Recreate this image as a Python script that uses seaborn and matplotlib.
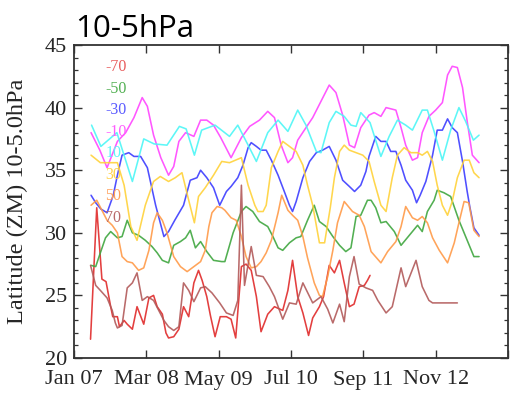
import matplotlib
matplotlib.use("Agg")
import matplotlib.pyplot as plt
import pandas as pd
import seaborn as sns
from matplotlib.ticker import MultipleLocator

# Time axis: months counted from Jan 2007
tick_months = [0, 14, 28, 42, 56, 70, 84]
tick_labels = ["Jan 07", "Mar 08", "May 09", "Jul 10", "Sep 11", "Nov 12", ""]

band_names = ["-70", "-50", "-30", "-10", "10", "30", "50", "70"]
band_colors = ["#e02a2a", "#3fa63f", "#3c3cff", "#ff45ff",
               "#4cf6f6", "#ffd23a", "#ff9a48", "#b25a5a"]
label_colors = ["#e85c5c", "#52b052", "#5a5aff", "#ff5cff",
                "#5cf8f8", "#ffd24a", "#ffa05a", "#b86a6a"]

# Zonal-mean latitude of each band (10-5 hPa)
mon_n70 = [3.2, 4.4, 5.4, 6.2, 7.1, 7.5, 8.4, 8.8, 9.7, 10.3, 11.3, 12.2, 13.5, 14.5,
           15.4, 16.1, 17.1, 17.8, 18.3, 19.3, 20.3, 21.2, 22.2, 23.2, 24.1, 24.8,
           25.7, 26.4, 27.3, 28.3, 29.5, 30.4, 31.3, 32.4, 33.3, 34.3, 35.3, 36.2,
           37.5, 38.8, 40.4, 41.4, 42.3, 43.3, 44.3, 45.4, 46.2, 47.5, 48.3, 49.4,
           50.4, 51.4, 52.3, 53.3, 54.2, 55.2, 56.2, 56.8, 57.3]
lat_n70 = [21.5, 32.0, 26.3, 26.1, 24.1, 23.3, 23.3, 22.5, 23.0, 22.7, 22.3, 24.1, 22.7, 24.8,
           25.0, 24.1, 23.5, 22.0, 21.6, 21.7, 22.3, 24.1, 23.3, 26.0, 27.0, 26.2,
           24.9, 23.4, 21.7, 23.3, 23.3, 23.1, 21.6, 27.3, 27.5, 27.0, 24.9, 22.1,
           23.5, 24.1, 23.8, 25.4, 27.8, 24.9, 23.6, 21.8, 23.2, 24.1, 24.9, 27.4,
           26.8, 27.8, 26.0, 24.1, 24.3, 25.7, 25.8, 26.2, 26.6]

mon_n50 = [3.3, 4.2, 5.1, 6.1, 7.1, 8.4, 9.3, 10.3, 11.3, 12.5, 13.8, 15.1, 16.1, 17.1,
           18.3, 19.3, 20.6, 21.6, 22.5, 23.5, 24.5, 25.7, 27.0, 28.6, 29.2, 30.8,
           32.4, 33.3, 34.6, 35.9, 37.5, 38.5, 39.5, 40.4, 41.7, 43.0, 43.9, 45.2,
           46.5, 47.5, 48.8, 50.1, 51.4, 52.6, 53.6, 54.6, 55.5, 56.8, 57.5, 58.4,
           59.4, 60.4, 62.0, 63.3, 64.9, 66.5, 67.4, 68.4, 69.7, 70.3, 71.6, 72.9,
           74.5, 75.8, 77.4, 78.4]
lat_n50 = [27.4, 27.3, 28.4, 29.6, 30.1, 29.6, 29.7, 31.0, 30.0, 29.8, 29.4, 28.9, 28.4, 27.8,
           27.6, 29.0, 29.3, 29.6, 30.2, 28.8, 29.3, 28.5, 27.8, 27.7, 27.7, 30.0,
           31.7, 32.1, 31.7, 30.9, 30.5, 29.7, 28.8, 28.6, 29.2, 29.6, 29.7, 31.0,
           32.2, 30.9, 30.5, 29.7, 29.0, 28.5, 28.8, 31.3, 31.4, 32.6, 32.6, 32.0,
           30.8, 30.9, 30.1, 29.0, 29.8, 30.6, 30.1, 31.7, 32.6, 33.4, 33.2, 32.9,
           31.0, 29.7, 28.1, 28.1]

mon_n30 = [3.3, 4.2, 5.2, 6.4, 7.6, 8.4, 9.3, 10.6, 11.6, 12.9, 14.2, 15.8, 17.4, 18.3,
           19.5, 21.2, 22.5, 23.8, 24.5, 25.7, 27.0, 28.2, 29.5, 30.4, 31.7, 32.7,
           33.7, 34.3, 35.3, 36.2, 37.2, 38.2, 39.5, 40.7, 41.7, 42.3, 43.0, 44.3,
           45.6, 46.9, 48.1, 49.4, 50.7, 52.0, 53.3, 54.3, 55.5, 56.5, 57.1, 58.4,
           59.4, 60.4, 61.3, 62.3, 63.3, 64.2, 65.5, 66.3, 67.0, 68.1, 69.4, 70.3,
           71.3, 72.3, 73.2, 74.2, 75.2, 76.1, 76.6, 77.4, 78.4]
lat_n30 = [33.0, 32.4, 31.9, 31.6, 33.0, 34.6, 36.2, 36.4, 36.1, 36.1, 35.2, 32.2, 29.7, 30.1,
           31.0, 32.2, 34.2, 34.4, 35.0, 34.4, 33.6, 32.2, 33.3, 33.7, 34.4, 35.4,
           36.8, 37.2, 36.9, 36.6, 36.6, 35.8, 34.6, 33.3, 32.2, 31.7, 32.5, 34.4,
           35.7, 36.4, 36.6, 36.9, 35.8, 34.2, 33.7, 33.3, 33.8, 34.9, 36.1, 37.7,
           37.3, 37.3, 36.5, 36.5, 35.4, 34.2, 33.4, 32.4, 33.0, 34.1, 36.2, 38.2,
           38.2, 39.1, 38.4, 38.0, 35.7, 33.3, 32.1, 30.4, 29.8]

mon_n10 = [3.3, 5.0, 6.4, 8.4, 10.0, 11.6, 13.2, 14.2, 15.4, 16.8, 18.3, 19.3, 20.3, 21.6,
           23.2, 24.5, 25.7, 27.0, 28.4, 30.4, 32.4, 34.0, 35.9, 37.5, 38.8, 40.1,
           41.4, 42.3, 43.3, 44.9, 46.2, 47.8, 49.4, 50.7, 52.0, 53.3, 54.3, 55.5,
           57.1, 58.1, 59.4, 60.4, 62.3, 63.3, 64.2, 65.5, 66.5, 67.4, 68.7, 70.0,
           71.3, 72.3, 73.2, 74.2, 75.2, 76.1, 77.1, 78.4]
lat_n10 = [38.0, 36.6, 35.2, 37.3, 38.0, 39.2, 40.8, 40.1, 37.8, 36.0, 34.6, 35.3, 37.3, 38.0,
           37.7, 39.0, 39.0, 38.6, 37.6, 36.0, 37.6, 38.5, 39.0, 39.7, 39.2, 37.0,
           35.6, 36.0, 37.4, 38.4, 39.2, 40.5, 41.8, 41.2, 39.4, 37.0, 36.8, 38.4,
           39.4, 39.6, 39.3, 40.0, 39.8, 38.4, 37.0, 35.8, 36.0, 38.0, 39.3, 39.8,
           40.4, 42.6, 43.3, 43.2, 41.6, 38.9, 36.2, 35.6]

mon_p10 = [3.4, 5.2, 8.3, 11.3, 13.5, 15.5, 18.0, 20.4, 21.7, 23.3, 24.7, 27.3, 30.1, 31.7,
           33.7, 35.3, 37.5, 39.5, 41.4, 43.3, 44.9, 46.9, 47.8, 49.4, 50.7, 52.3,
           53.6, 54.6, 55.5, 57.3, 59.4, 61.0, 62.6, 64.2, 65.5, 67.4, 68.4, 69.7,
           71.3, 72.9, 74.5, 75.8, 77.3, 78.4]
lat_p10 = [38.6, 36.9, 38.0, 34.1, 37.5, 37.1, 37.0, 38.5, 38.3, 36.2, 38.2, 38.6, 37.7, 38.6,
           37.0, 35.7, 38.0, 39.0, 38.1, 39.8, 38.6, 36.5, 36.4, 38.8, 39.7, 39.3,
           38.6, 38.5, 39.6, 38.8, 36.1, 37.7, 39.0, 38.6, 38.2, 39.8, 39.8, 38.1,
           35.8, 38.2, 40.0, 38.9, 37.4, 37.8]

mon_p30 = [3.3, 5.1, 6.5, 8.4, 9.7, 11.0, 12.2, 13.8, 15.4, 16.7, 18.3, 19.6, 20.9, 22.2,
           23.3, 24.1, 25.4, 27.0, 28.6, 30.1, 32.4, 33.7, 35.0, 35.6, 36.6, 37.2,
           38.2, 39.5, 40.4, 41.7, 43.0, 44.3, 45.2, 46.2, 47.5, 48.5, 49.6, 50.4,
           51.4, 52.3, 53.3, 54.6, 55.9, 57.1, 58.1, 59.4, 60.4, 61.6, 62.6, 63.9,
           65.2, 66.5, 67.4, 68.4, 69.4, 70.3, 71.3, 72.3, 73.2, 74.2, 75.5, 76.5,
           77.4, 78.4]
lat_p30 = [36.2, 35.6, 35.6, 35.6, 33.8, 30.5, 29.4, 32.2, 34.1, 34.5, 34.1, 34.4, 34.8, 32.6,
           30.8, 32.9, 33.6, 34.6, 35.7, 35.6, 36.0, 33.8, 32.2, 31.7, 31.7, 32.2,
           35.2, 36.5, 37.3, 36.9, 36.5, 35.4, 33.8, 32.2, 29.2, 29.2, 32.0, 34.4,
           36.5, 37.0, 36.6, 36.4, 36.2, 35.7, 34.1, 32.2, 31.7, 34.4, 36.2, 36.8,
           36.4, 36.4, 36.2, 36.5, 35.7, 33.8, 32.2, 31.4, 32.5, 34.4, 35.8, 35.8,
           34.8, 34.4]

mon_p50 = [3.3, 4.4, 5.4, 6.4, 7.4, 8.4, 9.3, 10.3, 11.3, 12.5, 13.5, 14.5, 15.4, 16.1,
           17.1, 18.0, 19.3, 20.6, 21.9, 23.2, 24.5, 25.4, 26.1, 26.7, 27.7, 28.6,
           29.2, 30.4, 31.4, 32.4, 33.3, 34.3, 35.3, 36.2, 37.2, 38.2, 39.5, 40.2,
           41.4, 42.3, 43.3, 44.3, 45.2, 46.5, 47.5, 48.1, 49.1, 50.1, 51.0, 52.3,
           53.9, 55.2, 56.2, 57.5, 59.4, 60.7, 62.3, 63.3, 64.2, 65.5, 66.5, 67.4,
           68.4, 69.4, 70.7, 72.3, 73.6, 74.5, 75.5, 76.4, 77.4, 78.4]
lat_p50 = [32.2, 32.6, 31.8, 31.0, 30.6, 30.0, 28.1, 27.7, 27.6, 27.0, 27.2, 28.6, 30.8, 31.6,
           31.0, 30.0, 28.1, 27.3, 26.9, 27.3, 27.7, 28.6, 30.5, 31.6, 32.1, 32.0,
           31.8, 31.2, 31.0, 29.7, 28.1, 27.2, 27.3, 27.7, 28.4, 29.4, 31.6, 33.0,
           31.8, 31.4, 31.0, 29.7, 28.0, 26.0, 25.0, 24.9, 26.5, 28.6, 30.8, 32.5,
           31.7, 31.4, 30.5, 28.5, 27.6, 28.5, 29.3, 30.5, 32.1, 31.2, 31.0, 31.3,
           30.8, 29.6, 28.6, 27.6, 29.2, 30.8, 32.5, 32.4, 30.2, 29.7]

mon_p70 = [3.2, 4.2, 5.1, 6.4, 7.4, 8.0, 8.4, 9.3, 10.3, 11.3, 12.2, 13.2, 14.2, 15.4,
           16.4, 17.4, 18.3, 19.3, 20.3, 21.2, 22.2, 23.2, 24.5, 25.4, 26.7, 28.2,
           29.5, 30.8, 31.7, 32.4, 33.0, 34.3, 35.3, 36.6, 37.8, 38.8, 40.4, 41.7,
           43.0, 44.3, 46.2, 47.8, 49.1, 50.1, 51.4, 52.3, 53.3, 54.2, 55.2, 56.5,
           57.8, 58.8, 60.4, 61.6, 63.3, 64.2, 66.2, 67.4, 68.7, 69.4, 74.2]
lat_p70 = [27.4, 25.8, 25.4, 24.8, 23.8, 22.8, 22.4, 22.6, 25.6, 26.0, 26.8, 24.6, 24.9, 24.6,
           23.8, 23.0, 22.5, 22.2, 22.5, 26.0, 25.4, 24.5, 25.6, 25.7, 25.2, 24.4,
           23.6, 23.4, 24.6, 33.8, 25.8, 28.9, 26.6, 26.5, 25.7, 24.9, 23.1, 24.4,
           24.3, 26.0, 24.4, 24.9, 23.9, 22.8, 24.3, 22.9, 26.5, 28.1, 25.9, 25.6,
           25.4, 24.6, 23.6, 24.1, 27.2, 25.7, 27.8, 25.7, 24.6, 24.4, 24.4]

series = {
    "-70": (mon_n70, lat_n70), "-50": (mon_n50, lat_n50),
    "-30": (mon_n30, lat_n30), "-10": (mon_n10, lat_n10),
    "10": (mon_p10, lat_p10), "30": (mon_p30, lat_p30),
    "50": (mon_p50, lat_p50), "70": (mon_p70, lat_p70),
}
frames = [pd.DataFrame({"month": m, "lat": v, "band": name})
          for name, (m, v) in series.items()]
df = pd.concat(frames, ignore_index=True)

sns.set_style("ticks")
serif = ["Liberation Serif", "DejaVu Serif"]

fig = plt.figure(figsize=(5.13, 3.99), dpi=100)
ax = fig.add_axes([74 / 513, 1 - 358 / 399, 434 / 513, 313 / 399])

sns.lineplot(data=df, x="month", y="lat", hue="band", hue_order=band_names,
             palette=band_colors, estimator=None, sort=True, legend=False,
             linewidth=1.15, alpha=0.9, ax=ax)

ax.set_xlim(0, 84)
ax.set_ylim(20, 45)
ax.set_xticks(tick_months)
ax.set_xticklabels(tick_labels, family=serif, fontsize=16)
ax.yaxis.set_major_locator(MultipleLocator(5))
ax.yaxis.set_minor_locator(MultipleLocator(1))
for lab in ax.get_yticklabels():
    lab.set_family(serif)
    lab.set_fontsize(16)
ax.tick_params(axis="both", which="major", direction="in", length=5.5, width=1.0,
               color="#333333", top=True, right=True)
ax.tick_params(axis="y", which="minor", direction="in", length=3, width=0.9,
               color="#333333", left=True, right=True)
ax.tick_params(axis="x", which="major", pad=9)
ax.tick_params(axis="y", which="major", pad=5)
for sp in ax.spines.values():
    sp.set_visible(True)
    sp.set_color("#333333")
    sp.set_linewidth(1.3)

ax.set_xlabel("")
ax.set_ylabel("Latitude (ZM) 10-5.0hPa", family=serif, fontsize=17.5)
ax.yaxis.set_label_coords(-0.105, 0.5)

# Band labels inside the plot
for i, (name, col) in enumerate(zip(band_names, label_colors)):
    ax.text(0.072, 0.930 - i * 0.069, name, transform=ax.transAxes,
            color=col, fontsize=11.5, family=serif, ha="left", va="center")

fig.text(75 / 513, 1 - 37 / 399, "10-5hPa", family=["Open Sans", "DejaVu Sans"],
         fontsize=22.5, ha="left", va="baseline", color="black")

fig.savefig("out.png", dpi=100)
